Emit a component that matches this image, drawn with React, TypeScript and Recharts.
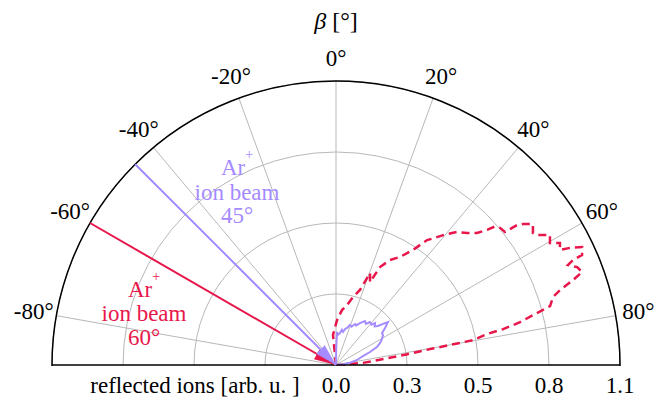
import React from 'react';
import { RadarChart, Radar, PolarGrid, PolarAngleAxis, PolarRadiusAxis } from 'recharts';

const W = 670;
const H = 403;
const CX = 336;
const CY = 365;
const R = 284;
const FONT = 'Liberation Serif, Times New Roman, serif';

const RED = '#e8174b';
const PURPLE = '#a58bff';

// reflected ions, 60° beam (β in degrees, intensity in arb. u.)
const redBeta = [-6, -5.7, 1.3, 6.2, 10.4, 14.0, 17.7, 20.3, 22.3, 24.2, 27.2, 30.6, 33.8, 34.5, 36.1, 37.9, 39.5, 42.3, 44.8, 46.9, 48.2, 48.9, 50.1, 51.8, 52.3, 53.0, 54.4, 56.2, 57.1, 58.7, 60.3, 61.4, 62.8, 63.4, 64.4, 65.9, 66.1, 66.7, 67.9, 69.3, 70.3, 71.5, 72.6, 74.6, 75.5, 76.9, 77.9, 78.4, 79.7, 80.0, 80.4, 81.4, 82.6, 85.5, 88, 89];
const redIons = [0, 0.117, 0.174, 0.214, 0.236, 0.271, 0.305, 0.38, 0.347, 0.416, 0.457, 0.486, 0.536, 0.554, 0.599, 0.624, 0.652, 0.697, 0.72, 0.748, 0.785, 0.815, 0.828, 0.833, 0.886, 0.907, 0.938, 0.918, 0.927, 0.97, 0.954, 0.988, 0.975, 1.013, 1.057, 1.044, 1.004, 0.978, 1.008, 1.019, 0.975, 0.915, 0.881, 0.86, 0.804, 0.732, 0.662, 0.598, 0.54, 0.461, 0.37, 0.279, 0.2, 0.105, 0.02, 0];

// reflected ions, 45° beam
const purpleBeta = [0, 0.8, 1.7, 4.0, 7.1, 9.5, 12.0, 14.5, 16.6, 19.3, 22.0, 24.9, 27.0, 29.7, 31.5, 33.4, 36.0, 38.3, 41.3, 42.9, 45.0, 47.1, 48.9, 50.4, 51.7, 53.0, 55.2, 57.4, 60.5, 63.4, 66.3, 69.1, 71.6, 76.6, 81.0, 84.0, 88.0];
const purpleIons = [0, 0.07, 0.128, 0.118, 0.125, 0.138, 0.131, 0.145, 0.15, 0.164, 0.16, 0.175, 0.172, 0.187, 0.195, 0.204, 0.197, 0.212, 0.208, 0.222, 0.212, 0.222, 0.242, 0.261, 0.248, 0.238, 0.217, 0.216, 0.205, 0.191, 0.173, 0.141, 0.11, 0.084, 0.055, 0.027, 0];

// incoming Ar+ beams: drawn from the rim to the origin
const beamBeta = [-60, -45];
const beamReach = [1.1, 0];

const angleTicks = [-80, -60, -40, -20, 0, 20, 40, 60, 80];
const radialTicks = [0, 0.275, 0.55, 0.825, 1.1];
const radialTickLabels = ['0.0', '0.3', '0.5', '0.8', '1.1'];

const redData = redBeta.map((b, i) => ({ beta: b, ions: redIons[i] }));
const purpleData = purpleBeta.map((b, i) => ({ beta: b, ions: purpleIons[i] }));
const beamData = (beta: number) => beamReach.map((r) => ({ beta, ions: r }));

const layer: React.CSSProperties = { position: 'absolute', left: 0, top: 0 };
const txt: React.CSSProperties = { fontFamily: FONT };

const chartProps = {
  cx: CX,
  cy: CY,
  innerRadius: 0,
  outerRadius: R,
  startAngle: 180,
  endAngle: 0,
  margin: { top: 0, right: 0, bottom: 0, left: 0 },
};

const AngleTick = (props: any) => {
  const { x, y, payload } = props;
  return (
    <text x={x} y={y} textAnchor="middle" dominantBaseline="central" style={txt} fontSize={23} fill="#000">
      {`${payload.value}°`}
    </text>
  );
};

const RadiusTick = (props: any) => {
  const { x, y, payload, index } = props;
  let i = radialTicks.indexOf(payload?.value);
  if (i < 0) i = index;
  return (
    <text x={x} y={y + 28} textAnchor="middle" style={txt} fontSize={23} fill="#000">
      {radialTickLabels[i]}
    </text>
  );
};

// arrowhead at the origin end of a beam
const arrowDot = (color: string) => (props: any) => {
  const { cx, cy, payload, index } = props;
  const p = payload?.payload ?? payload ?? {};
  const val = payload?.value ?? p.ions;
  if (val !== 0 || cx == null) return <g key={`d${index}`} />;
  const b = ((p.beta ?? 0) * Math.PI) / 180;
  const ux = Math.sin(b);
  const uy = -Math.cos(b);
  const L = 22;
  const w = 6;
  const bx = cx + L * ux;
  const by = cy + L * uy;
  const pts = `${cx},${cy} ${bx - w * uy},${by + w * ux} ${bx + w * uy},${by - w * ux}`;
  return <polygon key={`d${index}`} points={pts} fill={color} stroke="none" />;
};

const angleAxis = (show: boolean) => (
  <PolarAngleAxis
    dataKey="beta"
    type="number"
    domain={[-90, 90]}
    allowDataOverflow
    ticks={angleTicks}
    tickSize={23}
    tickLine={false}
    tick={show ? AngleTick : false}
    axisLine={show ? { stroke: '#000', strokeWidth: 1.5 } : false}
    axisLineType="circle"
  />
);

export default function App() {
  return (
    <div style={{ position: 'absolute', left: 0, top: 0, width: W, height: H, background: '#fff' }}>
      {/* grid, rim and the 60° distribution (clipped to the upper half) */}
      <div style={layer}>
        <RadarChart width={W} height={CY + 1} data={redData} {...chartProps}>
          <PolarGrid gridType="circle" stroke="#b8b8b8" strokeWidth={1} />
          {angleAxis(true)}
          <PolarRadiusAxis dataKey="ions" type="number" domain={[0, 1.1]} allowDataOverflow ticks={radialTicks} angle={0} tick={false} axisLine={false} />
          <Radar dataKey="ions" stroke={RED} strokeWidth={2.5} strokeDasharray="8 5" fill="none" fillOpacity={0} dot={false} isAnimationActive={false} />
        </RadarChart>
      </div>

      {/* 45° distribution + radial axis */}
      <div style={layer}>
        <RadarChart width={W} height={H} data={purpleData} {...chartProps}>
          {angleAxis(false)}
          <PolarRadiusAxis
            dataKey="ions"
            type="number"
            domain={[0, 1.1]}
            allowDataOverflow
            ticks={radialTicks}
            angle={0}
            tick={RadiusTick}
            axisLine={{ stroke: '#000', strokeWidth: 1.5 }}
          />
          <Radar dataKey="ions" stroke={PURPLE} strokeWidth={2} fill="none" fillOpacity={0} dot={false} isAnimationActive={false} />
        </RadarChart>
      </div>

      {/* 60° incoming beam */}
      <div style={layer}>
        <RadarChart width={W} height={H} data={beamData(beamBeta[0])} {...chartProps}>
          {angleAxis(false)}
          <PolarRadiusAxis dataKey="ions" type="number" domain={[0, 1.1]} allowDataOverflow ticks={radialTicks} angle={180} tick={false} axisLine={{ stroke: '#000', strokeWidth: 1.5 }} />
          <Radar dataKey="ions" stroke={RED} strokeWidth={2} fill="none" fillOpacity={0} dot={arrowDot(RED)} isAnimationActive={false} />
        </RadarChart>
      </div>

      {/* 45° incoming beam */}
      <div style={layer}>
        <RadarChart width={W} height={H} data={beamData(beamBeta[1])} {...chartProps}>
          {angleAxis(false)}
          <PolarRadiusAxis dataKey="ions" type="number" domain={[0, 1.1]} allowDataOverflow ticks={radialTicks} angle={0} tick={false} axisLine={false} />
          <Radar dataKey="ions" stroke={PURPLE} strokeWidth={2} fill="none" fillOpacity={0} dot={arrowDot(PURPLE)} isAnimationActive={false} />
        </RadarChart>
      </div>

      {/* titles and annotations */}
      <svg width={W} height={H} style={{ ...layer, ...txt, pointerEvents: 'none' }}>
        <text x={CX} y={29} textAnchor="middle" fontSize={24} fill="#000" style={txt}>
          <tspan fontStyle="italic">β</tspan> [°]
        </text>
        <text x={195} y={CY + 28} textAnchor="middle" fontSize={23} fill="#000" style={txt}>
          reflected ions [arb. u. ]
        </text>

        <text x={237} y={175} textAnchor="middle" fontSize={23} fill={PURPLE} style={txt}>
          Ar<tspan dy={-16} fontSize={14}>+</tspan>
        </text>
        <text x={237} y={200} textAnchor="middle" fontSize={23} fill={PURPLE} style={txt}>ion beam</text>
        <text x={237} y={223} textAnchor="middle" fontSize={23} fill={PURPLE} style={txt}>45°</text>

        <text x={144} y={297} textAnchor="middle" fontSize={23} fill={RED} style={txt}>
          Ar<tspan dy={-16} fontSize={14}>+</tspan>
        </text>
        <text x={144} y={321} textAnchor="middle" fontSize={23} fill={RED} style={txt}>ion beam</text>
        <text x={144} y={345} textAnchor="middle" fontSize={23} fill={RED} style={txt}>60°</text>
      </svg>
    </div>
  );
}
